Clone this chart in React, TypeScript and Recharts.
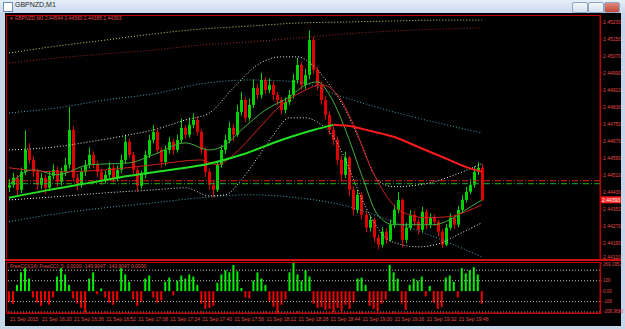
import { ComposedChart, Bar, Line, XAxis, YAxis, ReferenceLine, Cell } from 'recharts';

// prices in points: 44464 -> 2.44464
const opens = [
  44450, 44464, 44497, 44440, 44525, 44628, 44581, 44525, 44464, 44497,
  44450, 44506, 44534, 44478, 44525, 44558, 44722, 44497, 44464, 44525,
  44558, 44605, 44558, 44525, 44487, 44511, 44544, 44497, 44534, 44581,
  44666, 44605, 44534, 44459, 44511, 44605, 44675, 44713, 44628, 44572,
  44628, 44666, 44628, 44675, 44732, 44699, 44746, 44769, 44713, 44628,
  44525, 44464, 44440, 44558, 44628, 44675, 44732, 44699, 44807, 44863,
  44779, 44840, 44920, 44887, 44957, 44910, 44934, 44887, 44863, 44816,
  44854, 44887, 44957, 45028, 44934, 44981, 45145, 45004, 44934, 44863,
  44793, 44722, 44675, 44581, 44511, 44591, 44440, 44346, 44417, 44323,
  44262, 44299, 44215, 44182, 44243, 44205, 44276, 44346, 44393, 44205,
  44262, 44323, 44290, 44252, 44337, 44276, 44309, 44290, 44243, 44182,
  44262, 44309, 44276, 44346, 44393, 44431, 44464, 44525, 44544,
];
const closes = [
  44464, 44497, 44440, 44525, 44628, 44581, 44525, 44464, 44497, 44450,
  44506, 44534, 44478, 44525, 44558, 44722, 44497, 44464, 44525, 44558,
  44605, 44558, 44525, 44487, 44511, 44544, 44497, 44534, 44581, 44666,
  44605, 44534, 44459, 44511, 44605, 44675, 44713, 44628, 44572, 44628,
  44666, 44628, 44675, 44732, 44699, 44746, 44769, 44713, 44628, 44525,
  44464, 44440, 44558, 44628, 44675, 44732, 44699, 44807, 44863, 44779,
  44840, 44920, 44887, 44957, 44910, 44934, 44887, 44863, 44816, 44854,
  44887, 44957, 45028, 44934, 44981, 45145, 45004, 44934, 44863, 44793,
  44722, 44675, 44581, 44511, 44591, 44440, 44346, 44417, 44323, 44262,
  44299, 44215, 44182, 44243, 44205, 44276, 44346, 44393, 44205, 44262,
  44323, 44290, 44252, 44337, 44276, 44309, 44290, 44243, 44182, 44262,
  44309, 44276, 44346, 44393, 44431, 44464, 44525, 44544, 44393,
];
const highs = [
  44490, 44520, 44510, 44545, 44720, 44660, 44600, 44540, 44520, 44510,
  44530, 44560, 44550, 44545, 44590, 44830, 44740, 44515, 44545, 44580,
  44640, 44620, 44575, 44540, 44530, 44570, 44560, 44555, 44605, 44700,
  44680, 44620, 44550, 44530, 44625, 44700, 44745, 44725, 44640, 44650,
  44690, 44680, 44700, 44775, 44745, 44780, 44800, 44785, 44725, 44640,
  44540, 44480, 44575, 44650, 44700, 44760, 44750, 44840, 44900, 44875,
  44870, 44960, 44940, 44990, 44970, 44965, 44950, 44900, 44875, 44875,
  44910, 44985, 45060, 45040, 45010, 45190, 45160, 45020, 44950, 44880,
  44810, 44740, 44690, 44600, 44620, 44600, 44455, 44440, 44430, 44340,
  44320, 44310, 44230, 44265, 44260, 44300, 44370, 44430, 44400, 44285,
  44345, 44340, 44305, 44360, 44350, 44330, 44325, 44300, 44255, 44280,
  44330, 44320, 44365, 44415, 44455, 44490, 44550, 44570, 44560,
];
const lows = [
  44430, 44450, 44415, 44425, 44510, 44560, 44500, 44440, 44445, 44420,
  44435, 44490, 44455, 44460, 44505, 44540, 44480, 44440, 44450, 44505,
  44540, 44540, 44500, 44465, 44470, 44495, 44475, 44480, 44520, 44565,
  44590, 44515, 44430, 44445, 44495, 44590, 44660, 44610, 44545, 44555,
  44610, 44605, 44615, 44660, 44680, 44685, 44730, 44695, 44610, 44500,
  44440, 44405, 44430, 44545, 44610, 44660, 44670, 44690, 44790, 44760,
  44765, 44825, 44865, 44870, 44890, 44895, 44860, 44840, 44795, 44800,
  44840, 44870, 44940, 44910, 44915, 44960, 44985, 44910, 44840, 44770,
  44700, 44650, 44555, 44480, 44495, 44410, 44320, 44330, 44300, 44240,
  44245, 44195, 44160, 44170, 44185, 44195, 44260, 44330, 44170, 44190,
  44250, 44270, 44230, 44240, 44255, 44260, 44270, 44220, 44165, 44175,
  44250, 44255, 44265, 44330, 44380, 44420, 44450, 44510, 44385,
];
const cci = [
  -100, -120, 60, 180, 220, 120, -60, -110, -140, -90,
  -130, -60, 140, 220, 160, 60, -70, -120, -160, -200,
  120, 180, -30, 25, -60, -110, -130, -90, 220, 160,
  90, -80, -140, -100, 120, 150, -60, -110, -90, 90,
  130, -40, 100, 150, 120, 160, 140, 60, -120, -170,
  -160, -140, 80, 160, 200, 180, 250, 190, 30, -60,
  -70, 100, 180, 120, 60, -100, -150, -209, -130, -80,
  180, 269, 160, 100, 200, 140, -120, -160, -150, -180,
  -170, -200, -160, -190, -130, -170, -110, 120, 130, 60,
  -140, -170, -190, -120, -80, 250, 180, 120, -120, -180,
  60, 120, 100, 140, -50, 50, -110, -170, -150, 130,
  150, 90, -60, 220, 170, 200, 230, 160, -120,
];

// [bar index, price points]
const yellowEnv: [number, number][] = [[0, 45084], [12, 45117], [24, 45145], [36, 45174], [48, 45197], [60, 45211], [72, 45225], [84, 45230], [96, 45235], [108, 45239], [118, 45239]];
const redEnv: [number, number][] = [[0, 45037], [12, 45061], [24, 45080], [36, 45098], [48, 45122], [60, 45136], [72, 45155], [84, 45174], [96, 45188], [108, 45197], [118, 45202]];
const tealUp: [number, number][] = [[0, 44802], [12, 44826], [24, 44863], [36, 44892], [48, 44939], [60, 44957], [72, 44948], [84, 44873], [96, 44807], [108, 44751], [118, 44708]];
const tealLow: [number, number][] = [[0, 44290], [12, 44328], [24, 44356], [36, 44379], [48, 44403], [60, 44417], [72, 44403], [84, 44365], [96, 44290], [108, 44205], [118, 44125]];
const bbUp: [number, number][] = [[0, 44628], [12, 44643], [20, 44666], [30, 44699], [36, 44722], [44, 44769], [50, 44802], [56, 44920], [62, 45028], [68, 45066], [72, 45066], [76, 45023], [80, 44934], [84, 44816], [88, 44652], [92, 44487], [96, 44455], [104, 44469], [112, 44516], [118, 44563]];
const bbLow: [number, number][] = [[0, 44393], [12, 44408], [24, 44426], [36, 44440], [44, 44450], [50, 44412], [54, 44417], [58, 44487], [62, 44591], [66, 44699], [70, 44779], [74, 44779], [78, 44746], [80, 44713], [84, 44581], [86, 44487], [90, 44323], [94, 44215], [98, 44182], [102, 44172], [108, 44191], [112, 44229], [118, 44285]];
const maRed: [number, number][] = [[0, 44544], [12, 44525], [24, 44534], [36, 44558], [48, 44581], [52, 44558], [56, 44605], [62, 44722], [68, 44840], [74, 44910], [78, 44934], [82, 44887], [86, 44746], [90, 44558], [94, 44417], [98, 44337], [104, 44309], [110, 44314], [114, 44337], [118, 44370]];
const maGreen: [number, number][] = [[0, 44464], [6, 44534], [12, 44511], [20, 44558], [30, 44567], [36, 44605], [44, 44661], [50, 44628], [54, 44652], [58, 44722], [64, 44816], [70, 44878], [74, 44934], [77, 44948], [80, 44887], [84, 44722], [88, 44511], [92, 44323], [96, 44276], [100, 44276], [106, 44276], [110, 44299], [114, 44346], [118, 44393]];
const slowUp: [number, number][] = [[0, 44403], [10, 44440], [20, 44473], [30, 44506], [40, 44534], [50, 44563], [58, 44605], [68, 44675], [76, 44722], [81, 44746]];
const slowDown: [number, number][] = [[81, 44746], [86, 44737], [90, 44718], [96, 44690], [102, 44643], [108, 44596], [114, 44548], [118, 44525]];

const levelRed = 44483;
const levelGreen = 44469;

const priceTicks = [45230, 45150, 45070, 44990, 44910, 44830, 44750, 44670, 44590, 44510, 44430, 44350, 44270, 44190, 44110];
const cciTicks = [269.1952, 100, 0, -100, -208.968];
const cciLevels = [200, 100, -100, -200];
const timeLabels = [
  '21 Sep 2015', '21 Sep 16:20', '21 Sep 16:36', '21 Sep 16:52', '21 Sep 17:08',
  '21 Sep 17:24', '21 Sep 17:40', '21 Sep 17:56', '21 Sep 18:12', '21 Sep 18:28',
  '21 Sep 18:44', '21 Sep 19:00', '21 Sep 19:16', '21 Sep 19:32', '21 Sep 19:48',
];

const TOTAL = 148; // chart shift leaves empty slots on the right
const lineSets: Record<string, [number, number][]> = { yellowEnv, redEnv, tealUp, tealLow, bbUp, bbLow, maRed, maGreen, slowUp, slowDown };

const rows = Array.from({ length: TOTAL }, (_, i) => {
  const row: any = { i };
  if (i < closes.length) {
    row.o = opens[i];
    row.h = highs[i];
    row.l = lows[i];
    row.c = closes[i];
    row.range = [lows[i], highs[i]];
    row.cci = cci[i];
  }
  for (const key of Object.keys(lineSets)) {
    const p = lineSets[key].find((q) => q[0] === i);
    row[key] = p ? p[1] : null;
  }
  return row;
});

const fmtPrice = (v: number) => (2 + v / 100000).toFixed(5);
const fmtCci = (v: number) => (v === 0 ? '0.00' : v === 269.1952 ? '269.1952' : v === -208.968 ? '-208.9680' : String(v));
const lastClose = closes[closes.length - 1];
const axisRed = '#c00000';
const textRed = '#e04848';
const font = '"Liberation Sans", Arial, sans-serif';

function Candle(props: any) {
  const { x, y, width, height, payload } = props;
  if (!payload || payload.o == null) return null;
  const { o, h, l, c } = payload;
  const top = Math.min(y, y + height);
  const span = Math.abs(height);
  const k = h === l ? 0 : span / (h - l);
  const yO = top + (h - o) * k;
  const yC = top + (h - c) * k;
  const color = c >= o ? '#00d400' : '#e00000';
  const cx = Math.round(x + width / 2);
  const bt = Math.min(yO, yC);
  const bh = Math.max(1, Math.abs(yC - yO));
  return (
    <g>
      <line x1={cx + 0.5} x2={cx + 0.5} y1={top} y2={top + span} stroke={color} strokeWidth={1} />
      <rect x={cx - 1} y={bt} width={3} height={bh} fill={color} />
    </g>
  );
}

function TimeTick(props: any) {
  const { x, y, payload } = props;
  const idx = payload.value;
  if (idx % 8 !== 0 || idx / 8 >= timeLabels.length) return null;
  return (
    <g>
      <line x1={x} x2={x} y1={y - 2} y2={y + 1} stroke={axisRed} />
      <text x={x + 1} y={y + 8} fontSize={5} fill={textRed} fontFamily={font}>
        {timeLabels[idx / 8]}
      </text>
    </g>
  );
}

function PriceTick(props: any) {
  const { x, y, payload } = props;
  const v = payload.value;
  const dy = v === priceTicks[priceTicks.length - 1] ? -3 : 0;
  return (
    <text x={x} y={y + dy + 1.8} fontSize={5} fill={textRed} fontFamily={font}>
      {fmtPrice(v)}
    </text>
  );
}

function CciTick(props: any) {
  const { x, y, payload } = props;
  const v = payload.value;
  const dy = v === -208.968 ? -1.5 : v === 269.1952 ? 1.5 : 0;
  return (
    <text x={x} y={y + dy + 1.7} fontSize={4.5} fill={textRed} fontFamily={font}>
      {fmtCci(v)}
    </text>
  );
}

function PriceLabel(props: any) {
  const { viewBox } = props;
  if (!viewBox) return null;
  const x = viewBox.x + viewBox.width + 1;
  const y = viewBox.y;
  return (
    <g>
      <rect x={x} y={y - 3.5} width={20} height={7} fill="#ff2020" />
      <text x={x + 1} y={y + 2} fontSize={5} fill="#ffffff" fontFamily={font}>
        {fmtPrice(lastClose)}
      </text>
    </g>
  );
}

function WinButton({ left, red }: { left: number; red?: boolean }) {
  return (
    <div
      style={{
        position: 'absolute', left, top: 2, width: 14, height: 9, borderRadius: 2,
        border: '1px solid #8fa6c4',
        background: red ? 'linear-gradient(#e08a7c, #c2473a)' : 'linear-gradient(#f4f7fb, #d5e0ee)',
      }}
    />
  );
}

export default function App() {
  return (
    <div style={{ position: 'absolute', left: 0, top: 0, width: 625, height: 329, background: '#c6d6ea', overflow: 'hidden', fontFamily: font }}>
      {/* title bar */}
      <div style={{ position: 'absolute', left: 0, top: 0, width: 625, height: 13, background: 'linear-gradient(#e6eef8, #cbd9ec)' }} />
      <div style={{ position: 'absolute', left: 3, top: 2, width: 8, height: 8, background: '#ffffff', border: '1px solid #6b8cb8' }} />
      <div style={{ position: 'absolute', left: 15, top: 1, fontSize: 7, color: '#2a2a2a' }}>GBPNZD,M1</div>
      <WinButton left={572} />
      <WinButton left={588} />
      <WinButton left={604} red />

      {/* black chart area */}
      <div style={{ position: 'absolute', left: 5, top: 13, width: 616, height: 313, background: '#000000' }} />
      <div style={{ position: 'absolute', left: 6, top: 15, width: 593, height: 244, border: `1px solid ${axisRed}` }} />
      <div style={{ position: 'absolute', left: 5, top: 259, width: 616, height: 2, background: '#d01010' }} />
      <div style={{ position: 'absolute', left: 6, top: 262, width: 593, height: 50, border: `1px solid ${axisRed}` }} />

      <div style={{ position: 'absolute', left: 5, top: 14 }}>
        <ComposedChart width={620} height={246} data={rows} margin={{ top: 1, right: 0, left: 2, bottom: 0 }} barCategoryGap="10%">
          <XAxis dataKey="i" type="category" hide />
          <YAxis
            orientation="right"
            width={25}
            domain={[44110, 45263]}
            ticks={priceTicks}
            interval={0}
            tick={<PriceTick />}
            tickSize={2}
            tickMargin={1}
            tickLine={{ stroke: axisRed }}
            axisLine={{ stroke: axisRed }}
            allowDataOverflow
          />
          <ReferenceLine y={levelRed} stroke="#e02020" strokeDasharray="6 2 1 2" />
          <ReferenceLine y={levelGreen} stroke="#20b020" strokeDasharray="6 2 1 2" />
          <Line dataKey="yellowEnv" type="monotone" stroke="#cfcf6a" strokeDasharray="1 2" dot={false} connectNulls isAnimationActive={false} />
          <Line dataKey="redEnv" type="monotone" stroke="#a02828" strokeDasharray="1 2" dot={false} connectNulls isAnimationActive={false} />
          <Line dataKey="tealUp" type="monotone" stroke="#4aa3b5" strokeDasharray="1 2" dot={false} connectNulls isAnimationActive={false} />
          <Line dataKey="tealLow" type="monotone" stroke="#4aa3b5" strokeDasharray="1 2" dot={false} connectNulls isAnimationActive={false} />
          <Line dataKey="bbUp" type="monotone" stroke="#e8e8e8" strokeDasharray="1 2" dot={false} connectNulls isAnimationActive={false} />
          <Line dataKey="bbLow" type="monotone" stroke="#e8e8e8" strokeDasharray="1 2" dot={false} connectNulls isAnimationActive={false} />
          <Bar dataKey="range" shape={<Candle />} isAnimationActive={false} />
          <Line dataKey="maGreen" type="monotone" stroke="#3fae3f" strokeWidth={1} dot={false} connectNulls isAnimationActive={false} />
          <Line dataKey="maRed" type="monotone" stroke="#d02020" strokeWidth={1} dot={false} connectNulls isAnimationActive={false} />
          <Line dataKey="slowUp" type="monotone" stroke="#22e022" strokeWidth={2} dot={false} connectNulls isAnimationActive={false} />
          <Line dataKey="slowDown" type="monotone" stroke="#ff1a1a" strokeWidth={2} dot={false} connectNulls isAnimationActive={false} />
          <ReferenceLine y={lastClose} stroke="none" label={<PriceLabel />} />
        </ComposedChart>
      </div>

      <div style={{ position: 'absolute', left: 5, top: 261 }}>
        <ComposedChart width={620} height={64} data={rows} margin={{ top: 2, right: 0, left: 2, bottom: 0 }} barCategoryGap="10%">
          <XAxis
            dataKey="i"
            type="category"
            interval={0}
            height={12}
            tick={<TimeTick />}
            tickSize={0}
            tickMargin={0}
            tickLine={false}
            axisLine={{ stroke: axisRed }}
          />
          <YAxis
            orientation="right"
            width={25}
            domain={[-208.968, 269.1952]}
            ticks={cciTicks}
            interval={0}
            tick={<CciTick />}
            tickSize={2}
            tickMargin={1}
            tickLine={{ stroke: axisRed }}
            axisLine={{ stroke: axisRed }}
          />
          {cciLevels.map((lv) => (
            <ReferenceLine key={lv} y={lv} stroke="#bdbdbd" strokeDasharray="1 2" />
          ))}
          <Bar dataKey="cci" barSize={2} isAnimationActive={false}>
            {rows.map((r) => (
              <Cell key={r.i} fill={r.cci >= 0 ? '#00f000' : '#ee0000'} />
            ))}
          </Bar>
        </ComposedChart>
      </div>

      <div style={{ position: 'absolute', left: 10, top: 15, fontSize: 5, color: textRed, whiteSpace: 'nowrap' }}>
        ▾ GBPNZD,M1  2.44544 2.44560 2.44385 2.44393
      </div>
      <div style={{ position: 'absolute', left: 10, top: 263, fontSize: 5, color: textRed, whiteSpace: 'nowrap' }}>
        FreeCCI(14) FreeCCI: 0: 0.0000 -149.9047 -143.9047 0.0000
      </div>
    </div>
  );
}
